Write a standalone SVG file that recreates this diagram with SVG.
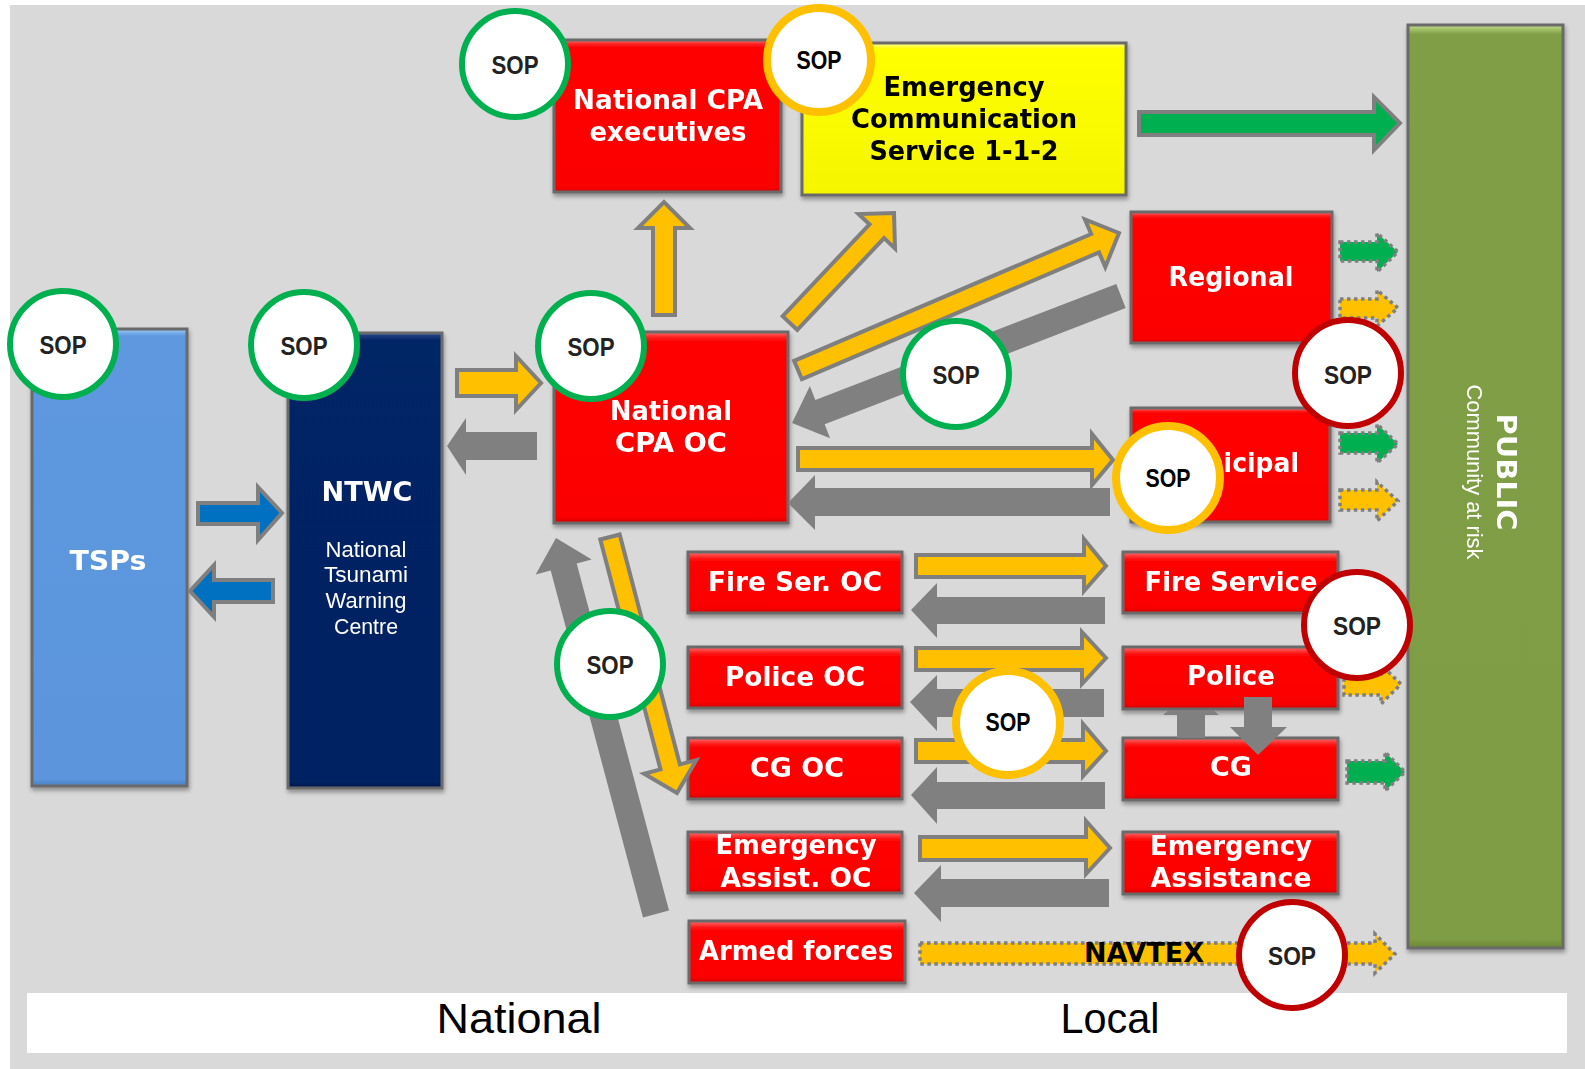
<svg xmlns="http://www.w3.org/2000/svg" width="1585" height="1069" viewBox="0 0 1585 1069">
<style>
.bg{fill:#d9d9d9}
.band{fill:#ffffff}
.box{stroke:#6b6b6b;stroke-width:3}
.lbl{font-family:"DejaVu Sans","Liberation Sans",Arial,sans-serif;font-weight:bold;font-size:26px;fill:#ffffff;text-anchor:middle}
.blk{fill:#000000}
.sub{font-family:"Liberation Sans",Arial,sans-serif;font-size:22px;fill:#ffffff;text-anchor:middle}
.foot{font-family:"Liberation Sans",Arial,sans-serif;font-size:43px;fill:#000000;text-anchor:middle}
.ay{fill:#ffc000;stroke:#7f7f7f;stroke-width:4}
.ab{fill:#0070c0;stroke:#7f7f7f;stroke-width:4}
.agr{fill:#00b050;stroke:#7f7f7f;stroke-width:4}
.ag{fill:#808080}
.dy{fill:#ffc000;stroke:#7f7f7f;stroke-width:3.5;stroke-dasharray:3.5 3.5}
.dg{fill:#00b050;stroke:#7f7f7f;stroke-width:3.5;stroke-dasharray:3.5 3.5}
.sop{fill:#ffffff;stroke-width:6}
.sg{stroke:#00b050}
.sr{stroke:#c00000}
.so{stroke:#ffc000;stroke-width:8}
.sopt{font-family:"Liberation Sans",Arial,sans-serif;font-weight:bold;font-size:25px;fill:#222222;text-anchor:middle}
.sopk{fill:#000000}
</style>
<defs>
<filter id="sh" x="-10%" y="-10%" width="120%" height="130%">
<feDropShadow dx="1" dy="3" stdDeviation="2" flood-color="#000" flood-opacity="0.35"/>
</filter>
<filter id="soft" x="-10%" y="-10%" width="120%" height="120%">
<feGaussianBlur stdDeviation="0.7"/>
</filter>
<linearGradient id="rS" x1="0" y1="0" x2="0" y2="1">
<stop offset="0" stop-color="#ff7070"/><stop offset="0.1" stop-color="#ff1a1a"/><stop offset="0.16" stop-color="#ff0000"/><stop offset="0.9" stop-color="#fb0000"/><stop offset="1" stop-color="#d40000"/>
</linearGradient>
<linearGradient id="rL" x1="0" y1="0" x2="0" y2="1">
<stop offset="0" stop-color="#ff7070"/><stop offset="0.03" stop-color="#ff1a1a"/><stop offset="0.05" stop-color="#ff0000"/><stop offset="0.97" stop-color="#fb0000"/><stop offset="1" stop-color="#d40000"/>
</linearGradient>
<linearGradient id="yL" x1="0" y1="0" x2="0" y2="1">
<stop offset="0" stop-color="#ffff99"/><stop offset="0.04" stop-color="#ffff00"/><stop offset="1" stop-color="#f5f500"/>
</linearGradient>
<linearGradient id="bL" x1="0" y1="0" x2="0" y2="1">
<stop offset="0" stop-color="#9dcbf7"/><stop offset="0.015" stop-color="#5e98de"/><stop offset="0.985" stop-color="#5b95dc"/><stop offset="1" stop-color="#4a7fc0"/>
</linearGradient>
<linearGradient id="nL" x1="0" y1="0" x2="0" y2="1">
<stop offset="0" stop-color="#2c4f95"/><stop offset="0.015" stop-color="#062566"/><stop offset="0.985" stop-color="#052363"/><stop offset="1" stop-color="#031a4c"/>
</linearGradient>
<linearGradient id="pL" x1="0" y1="0" x2="0" y2="1">
<stop offset="0" stop-color="#c2e08a"/><stop offset="0.01" stop-color="#809e45"/><stop offset="0.99" stop-color="#7f9d44"/><stop offset="1" stop-color="#6a8636"/>
</linearGradient>
</defs>

<rect class="bg" x="10" y="5" width="1575" height="1064"/>
<rect class="band" x="27" y="993" width="1540" height="60"/>
<text class="foot" x="519" y="1033" textLength="165" lengthAdjust="spacingAndGlyphs">National</text>
<text class="foot" x="1110" y="1033" textLength="99" lengthAdjust="spacingAndGlyphs">Local</text>

<g id="tsps" filter="url(#sh)">
<rect class="box" x="32" y="329" width="155" height="457" fill="url(#bL)"/>
<text class="lbl" x="108" y="570" font-size="31" textLength="77" lengthAdjust="spacingAndGlyphs">TSPs</text>
</g>
<g id="ntwc" filter="url(#sh)">
<rect class="box" x="288" y="333" width="154" height="455" fill="url(#nL)"/>
<text class="lbl" x="367" y="501" font-size="29" textLength="91" lengthAdjust="spacingAndGlyphs">NTWC</text>
<text class="sub" x="366" y="557" textLength="81" lengthAdjust="spacingAndGlyphs">National</text>
<text class="sub" x="366" y="582" textLength="84" lengthAdjust="spacingAndGlyphs">Tsunami</text>
<text class="sub" x="366" y="608" textLength="81" lengthAdjust="spacingAndGlyphs">Warning</text>
<text class="sub" x="366" y="634" textLength="64" lengthAdjust="spacingAndGlyphs">Centre</text>
</g>
<g id="cpa-exec" filter="url(#sh)">
<rect class="box" x="554" y="40" width="227" height="152" fill="url(#rL)"/>
<text class="lbl" x="668" y="109" textLength="190" lengthAdjust="spacingAndGlyphs">National CPA</text>
<text class="lbl" x="668" y="141" textLength="157" lengthAdjust="spacingAndGlyphs">executives</text>
</g>
<g id="ecs112" filter="url(#sh)">
<rect class="box" x="802" y="43" width="324" height="152" fill="url(#yL)"/>
<text class="lbl blk" x="964" y="96" font-size="27" textLength="161" lengthAdjust="spacingAndGlyphs">Emergency</text>
<text class="lbl blk" x="964" y="128" font-size="27" textLength="226" lengthAdjust="spacingAndGlyphs">Communication</text>
<text class="lbl blk" x="964" y="160" font-size="27" textLength="189" lengthAdjust="spacingAndGlyphs">Service 1-1-2</text>
</g>
<g id="cpa-oc" filter="url(#sh)">
<rect class="box" x="554" y="332" width="234" height="191" fill="url(#rL)"/>
<text class="lbl" x="671" y="420" textLength="122" lengthAdjust="spacingAndGlyphs">National</text>
<text class="lbl" x="671" y="452" textLength="112" lengthAdjust="spacingAndGlyphs">CPA OC</text>
</g>
<g id="regional" filter="url(#sh)">
<rect class="box" x="1131" y="212" width="201" height="131" fill="url(#rL)"/>
<text class="lbl" x="1231" y="286" textLength="125" lengthAdjust="spacingAndGlyphs">Regional</text>
</g>
<g id="municipal" filter="url(#sh)">
<rect class="box" x="1131" y="408" width="199" height="114" fill="url(#rL)"/>
<text class="lbl" x="1231" y="472" textLength="136" lengthAdjust="spacingAndGlyphs">Municipal</text>
</g>
<g id="fire-oc" filter="url(#sh)">
<rect class="box" x="688" y="552" width="214" height="61" fill="url(#rS)"/>
<text class="lbl" x="795" y="591" textLength="174" lengthAdjust="spacingAndGlyphs">Fire Ser. OC</text>
</g>
<g id="police-oc" filter="url(#sh)">
<rect class="box" x="688" y="647" width="214" height="61" fill="url(#rS)"/>
<text class="lbl" x="795" y="686" textLength="140" lengthAdjust="spacingAndGlyphs">Police OC</text>
</g>
<g id="cg-oc" filter="url(#sh)">
<rect class="box" x="688" y="738" width="214" height="61" fill="url(#rS)"/>
<text class="lbl" x="797" y="777" textLength="94" lengthAdjust="spacingAndGlyphs">CG OC</text>
</g>
<g id="ea-oc" filter="url(#sh)">
<rect class="box" x="688" y="832" width="214" height="61" fill="url(#rS)"/>
<text class="lbl" x="796" y="854" textLength="161" lengthAdjust="spacingAndGlyphs">Emergency</text>
<text class="lbl" x="796" y="887" textLength="151" lengthAdjust="spacingAndGlyphs">Assist. OC</text>
</g>
<g id="armed" filter="url(#sh)">
<rect class="box" x="689" y="921" width="216" height="62" fill="url(#rS)"/>
<text class="lbl" x="796" y="960" textLength="194" lengthAdjust="spacingAndGlyphs">Armed forces</text>
</g>
<g id="fire" filter="url(#sh)">
<rect class="box" x="1123" y="552" width="215" height="61" fill="url(#rS)"/>
<text class="lbl" x="1231" y="591" textLength="173" lengthAdjust="spacingAndGlyphs">Fire Service</text>
</g>
<g id="police" filter="url(#sh)">
<rect class="box" x="1123" y="647" width="215" height="62" fill="url(#rS)"/>
<text class="lbl" x="1231" y="685" textLength="88" lengthAdjust="spacingAndGlyphs">Police</text>
</g>
<g id="cg" filter="url(#sh)">
<rect class="box" x="1123" y="738" width="215" height="62" fill="url(#rS)"/>
<text class="lbl" x="1231" y="776" textLength="42" lengthAdjust="spacingAndGlyphs">CG</text>
</g>
<g id="ea" filter="url(#sh)">
<rect class="box" x="1123" y="832" width="215" height="62" fill="url(#rS)"/>
<text class="lbl" x="1231" y="855" textLength="162" lengthAdjust="spacingAndGlyphs">Emergency</text>
<text class="lbl" x="1231" y="887" textLength="161" lengthAdjust="spacingAndGlyphs">Assistance</text>
</g>
<g id="public" filter="url(#sh)">
<rect class="box" x="1408" y="25" width="155" height="923" fill="url(#pL)"/>
<g transform="translate(1490,472) rotate(90)">
<text class="lbl" x="0" y="-7" font-size="30" textLength="117" lengthAdjust="spacingAndGlyphs">PUBLIC</text>
<text class="sub" x="0" y="23" textLength="175" lengthAdjust="spacingAndGlyphs">Community at risk</text>
</g>
</g>

<g id="connectors">
<polygon class="ab" points="198,503 258,503 258,487 282,513 258,540 258,524 198,524"/>
<polygon class="ab" points="273,580 214,580 214,565 190,591 214,617 214,602 273,602"/>
<polygon class="ay" points="457,370 516,370 516,356 541,383 516,410 516,396 457,396"/>
<polygon class="ag" points="537,432 466,432 466,418 447,446 466,475 466,460 537,460"/>
<polygon class="ay" points="653,315 653,228 638,228 664,202 690,228 675,228 675,315"/>
<polygon class="ay" points="797.3,329.9 884.1,238.1 895,248.4 894,213 858.6,214 869.5,224.3 782.7,316.1"/>
<polygon class="ay" points="801.9,379.2 1099,252.4 1105.3,267.1 1119,233 1084.9,219.3 1091.2,234 794.1,360.8"/>
<polygon class="ag" points="1125.7,308.1 824.7,424.3 830.1,438.3 792,423 809.9,386.1 815.3,400.1 1116.3,283.9"/>
<polygon class="agr" points="1139,112 1374,112 1374,97 1400,123 1374,150 1374,135 1139,135"/>
<polygon class="ay" points="798,448 1092,448 1092,434 1113,460 1092,485 1092,470 798,470"/>
<polygon class="ag" points="1110,488 815,488 815,475 788,503 815,530 815,516 1110,516"/>
<polygon class="ag" points="669,910.5 576.7,563.5 591.7,559.5 556,538 535.7,574.5 550.7,570.5 643,917.5"/>
<polygon class="ay" points="619.7,534.5 679.9,764.4 696.3,760.1 677,793 644.1,773.7 660.5,769.4 600.3,539.5"/>
<polygon class="ay" points="916,555 1084,555 1084,539 1106,566 1084,591 1084,577 916,577"/>
<polygon class="ag" points="1105,597 937,597 937,583 911,610 937,638 937,624 1105,624"/>
<polygon class="ay" points="916,648 1082,648 1082,632 1106,658 1082,684 1082,670 916,670"/>
<polygon class="ag" points="1104,689 937,689 937,675 910,702 937,731 937,717 1104,717"/>
<polygon class="ay" points="916,740 1083,740 1083,724 1106,751 1083,776 1083,762 916,762"/>
<polygon class="ag" points="1105,782 937,782 937,767 911,795 937,824 937,809 1105,809"/>
<polygon class="ay" points="920,837 1086,837 1086,821 1110,848 1086,874 1086,860 920,860"/>
<polygon class="ag" points="1109,879 941,879 941,865 914,893 941,922 941,907 1109,907"/>
<polygon class="ag" points="1177,738 1177,715 1163,715 1169,710 1213,710 1219,715 1205,715 1205,738"/>
<polygon class="ag" points="1244,697 1272,697 1272,727 1287,727 1258,755 1230,727 1244,727"/>
<polygon class="dg" points="1340,242 1377,242 1377,233 1398,252 1377,272 1377,261 1340,261"/>
<polygon class="dy" points="1340,299 1377,299 1377,290 1398,308 1377,326 1377,318 1340,318"/>
<polygon class="dg" points="1340,433 1377,433 1377,424 1398,444 1377,463 1377,453 1340,453"/>
<polygon class="dy" points="1340,490 1377,490 1377,482 1398,501 1377,521 1377,510 1340,510"/>
<polygon class="dy" points="1344,674 1381,674 1381,665 1401,684 1381,704 1381,695 1344,695"/>
<polygon class="dg" points="1347,761 1385,761 1385,752 1405,772 1385,791 1385,783 1347,783"/>
<polygon class="dy" points="920,943 1375,943 1375,934 1395,954 1375,973 1375,964 920,964"/>
<text class="lbl blk" x="1144" y="962" textLength="120" lengthAdjust="spacingAndGlyphs">NAVTEX</text>
</g>

<g id="sop-tsps"><circle class="sop sg" cx="63" cy="344" r="53" filter="url(#soft)"/><text class="sopt" x="63" y="354" textLength="47" lengthAdjust="spacingAndGlyphs">SOP</text></g>
<g id="sop-ntwc"><circle class="sop sg" cx="304" cy="345" r="53" filter="url(#soft)"/><text class="sopt" x="304" y="355" textLength="47" lengthAdjust="spacingAndGlyphs">SOP</text></g>
<g id="sop-exec"><circle class="sop sg" cx="515" cy="64" r="53" filter="url(#soft)"/><text class="sopt" x="515" y="74" textLength="47" lengthAdjust="spacingAndGlyphs">SOP</text></g>
<g id="sop-ecs"><circle class="sop so" cx="819" cy="60" r="52"/><text class="sopt sopk" x="819" y="69" textLength="45" lengthAdjust="spacingAndGlyphs">SOP</text></g>
<g id="sop-oc"><circle class="sop sg" cx="591" cy="346" r="53" filter="url(#soft)"/><text class="sopt" x="591" y="356" textLength="47" lengthAdjust="spacingAndGlyphs">SOP</text></g>
<g id="sop-mid"><circle class="sop sg" cx="956" cy="374" r="53" filter="url(#soft)"/><text class="sopt" x="956" y="384" textLength="47" lengthAdjust="spacingAndGlyphs">SOP</text></g>
<g id="sop-regional"><circle class="sop sr" cx="1348" cy="373" r="53" filter="url(#soft)"/><text class="sopt" x="1348" y="384" textLength="48" lengthAdjust="spacingAndGlyphs">SOP</text></g>
<g id="sop-municipal"><circle class="sop so" cx="1168" cy="478" r="52"/><text class="sopt sopk" x="1168" y="487" textLength="45" lengthAdjust="spacingAndGlyphs">SOP</text></g>
<g id="sop-diag"><circle class="sop sg" cx="610" cy="664" r="53" filter="url(#soft)"/><text class="sopt" x="610" y="674" textLength="47" lengthAdjust="spacingAndGlyphs">SOP</text></g>
<g id="sop-fire"><circle class="sop sr" cx="1357" cy="625" r="53" filter="url(#soft)"/><text class="sopt" x="1357" y="635" textLength="48" lengthAdjust="spacingAndGlyphs">SOP</text></g>
<g id="sop-center"><circle class="sop so" cx="1008" cy="723" r="52"/><text class="sopt sopk" x="1008" y="731" textLength="45" lengthAdjust="spacingAndGlyphs">SOP</text></g>
<g id="sop-navtex"><circle class="sop sr" cx="1292" cy="955" r="53" filter="url(#soft)"/><text class="sopt" x="1292" y="965" textLength="48" lengthAdjust="spacingAndGlyphs">SOP</text></g>
</svg>
